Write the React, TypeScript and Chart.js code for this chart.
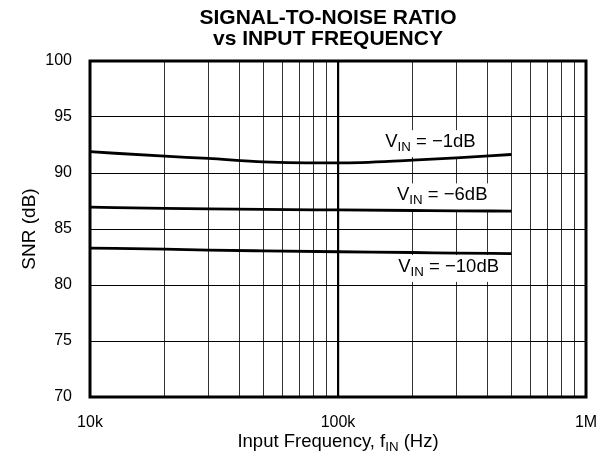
import { useEffect, useRef } from "react";
import { Chart, registerables } from "chart.js";

Chart.register(...registerables);

const FONT = '"Liberation Sans", Arial, Helvetica, sans-serif';

// ---- data ----
const frequencies = [10000, 20000, 30000, 50000, 100000, 200000, 300000, 500000];
const snrVinMinus1 = [91.9, 91.5, 91.3, 91.0, 90.9, 91.15, 91.35, 91.65];
const snrVinMinus6 = [86.95, 86.85, 86.8, 86.75, 86.7, 86.65, 86.62, 86.6];
const snrVinMinus10 = [83.3, 83.2, 83.12, 83.05, 82.97, 82.9, 82.85, 82.8];

const gridFrequencies = [
  10000, 20000, 30000, 40000, 50000, 60000, 70000, 80000, 90000,
  100000, 200000, 300000, 400000, 500000, 600000, 700000, 800000, 900000,
  1000000,
];
const decadeValues = [10000, 100000, 1000000];
const decadeLabels = ["10k", "100k", "1M"];
const yMin = 70;
const yMax = 100;
const yStep = 5;

const titleLines = ["SIGNAL-TO-NOISE RATIO", "vs INPUT FREQUENCY"];
const yAxisTitle = "SNR (dB)";
const seriesLabels = ["−1dB", "−6dB", "−10dB"];
// label anchors (left edge frequency, centre dB)
const labelFreqs = [155000, 173000, 175000];
const labelDb = [92.8, 88.05, 81.65];

type Seg = { t: string; sub?: boolean };

function drawSegs(
  ctx: CanvasRenderingContext2D,
  segs: Seg[],
  x: number,
  y: number,
  size: number,
  align: "left" | "center",
  bg?: boolean
) {
  const subSize = size * 0.72;
  const widths = segs.map((s) => {
    ctx.font = `${s.sub ? subSize : size}px ${FONT}`;
    return ctx.measureText(s.t).width;
  });
  const total = widths.reduce((a, b) => a + b, 0);
  let cx = align === "center" ? x - total / 2 : x;
  if (bg) {
    ctx.fillStyle = "#fff";
    ctx.fillRect(cx - 3, y - size * 0.62, total + 6, size * 1.45);
  }
  ctx.fillStyle = "#000";
  ctx.textBaseline = "middle";
  ctx.textAlign = "left";
  segs.forEach((s, i) => {
    ctx.font = `${s.sub ? subSize : size}px ${FONT}`;
    ctx.fillText(s.t, cx, s.sub ? y + size * 0.3 : y);
    cx += widths[i];
  });
}

const decorPlugin = {
  id: "decor",
  beforeDatasetsDraw(chart: any) {
    const ctx = chart.ctx as CanvasRenderingContext2D;
    const xs = chart.scales.x;
    const ys = chart.scales.y;
    ctx.save();
    seriesLabels.forEach((lab, i) => {
      const px = xs.getPixelForValue(labelFreqs[i]);
      const py = ys.getPixelForValue(labelDb[i]);
      drawSegs(
        ctx,
        [{ t: "V" }, { t: "IN", sub: true }, { t: " = " + lab }],
        px,
        py,
        18.5,
        "left",
        true
      );
    });
    ctx.restore();
  },
  afterDatasetsDraw(chart: any) {
    const ctx = chart.ctx as CanvasRenderingContext2D;
    const a = chart.chartArea;
    ctx.save();
    ctx.strokeStyle = "#000";
    ctx.lineWidth = 3;
    ctx.strokeRect(a.left, a.top, a.right - a.left, a.bottom - a.top);

    // main title
    ctx.fillStyle = "#000";
    ctx.textAlign = "center";
    ctx.textBaseline = "middle";
    ctx.font = `bold 21px ${FONT}`;
    const cx = (a.left + a.right) / 2 - 10;
    ctx.fillText(titleLines[0], cx, 18);
    ctx.fillText(titleLines[1], cx, 39);

    // x axis title
    drawSegs(
      ctx,
      [{ t: "Input Frequency, f" }, { t: "IN", sub: true }, { t: " (Hz)" }],
      (a.left + a.right) / 2,
      442,
      18.5,
      "center"
    );

    // y axis title
    ctx.save();
    ctx.translate(30, (a.top + a.bottom) / 2);
    ctx.rotate(-Math.PI / 2);
    ctx.font = `19px ${FONT}`;
    ctx.textAlign = "center";
    ctx.textBaseline = "middle";
    ctx.fillStyle = "#000";
    ctx.fillText(yAxisTitle, 0, 0);
    ctx.restore();
    ctx.restore();
  },
};

export default function App() {
  const ref = useRef<HTMLCanvasElement | null>(null);

  useEffect(() => {
    if (!ref.current) return;
    const mk = (vals: number[]) => frequencies.map((f, i) => ({ x: f, y: vals[i] }));
    const lineStyle = {
      borderColor: "#000",
      borderWidth: 2.8,
      pointRadius: 0,
      tension: 0.4,
      cubicInterpolationMode: "monotone" as const,
      fill: false,
    };
    const chart = new Chart(ref.current, {
      type: "line",
      data: {
        datasets: [
          { label: "VIN = −1dB", data: mk(snrVinMinus1), ...lineStyle },
          { label: "VIN = −6dB", data: mk(snrVinMinus6), ...lineStyle },
          { label: "VIN = −10dB", data: mk(snrVinMinus10), ...lineStyle },
        ],
      },
      options: {
        animation: false,
        responsive: false,
        devicePixelRatio: 1,
        layout: { padding: { top: 61, right: 11, left: 0, bottom: 0 } },
        plugins: { legend: { display: false }, tooltip: { enabled: false }, title: { display: false } },
        scales: {
          x: {
            type: "logarithmic",
            min: 10000,
            max: 1000000,
            afterBuildTicks: (s: any) => {
              s.ticks = gridFrequencies.map((v) => ({ value: v, major: false }));
            },
            afterFit: (s: any) => {
              s.height = 67;
              s.paddingLeft = 0;
              s.paddingRight = 0;
            },
            ticks: {
              autoSkip: false,
              maxRotation: 0,
              minRotation: 0,
              padding: 16,
              color: "#000",
              font: { family: FONT, size: 16 },
              callback: (v: any) => {
                const idx = decadeValues.indexOf(Number(v));
                return idx >= 0 ? decadeLabels[idx] : "";
              },
            },
            grid: {
              drawTicks: false,
              color: (c: any) => (c.tick && c.tick.value === 100000 ? "#000" : "#333"),
              lineWidth: (c: any) => (c.tick && c.tick.value === 100000 ? 2.2 : 1),
            },
            border: { display: false },
          },
          y: {
            min: yMin,
            max: yMax,
            afterFit: (s: any) => {
              s.width = 90;
              s.paddingTop = 0;
              s.paddingBottom = 0;
            },
            ticks: {
              stepSize: yStep,
              padding: 18,
              color: "#000",
              font: { family: FONT, size: 16 },
            },
            grid: { drawTicks: false, color: "#000", lineWidth: 1 },
            border: { display: false },
          },
        },
      },
      plugins: [decorPlugin],
    });
    return () => chart.destroy();
  }, []);

  return (
    <div style={{ position: "absolute", left: 0, top: 0, width: 597, height: 464, background: "#fff" }}>
      <canvas ref={ref} width={597} height={464} style={{ display: "block" }} />
    </div>
  );
}
